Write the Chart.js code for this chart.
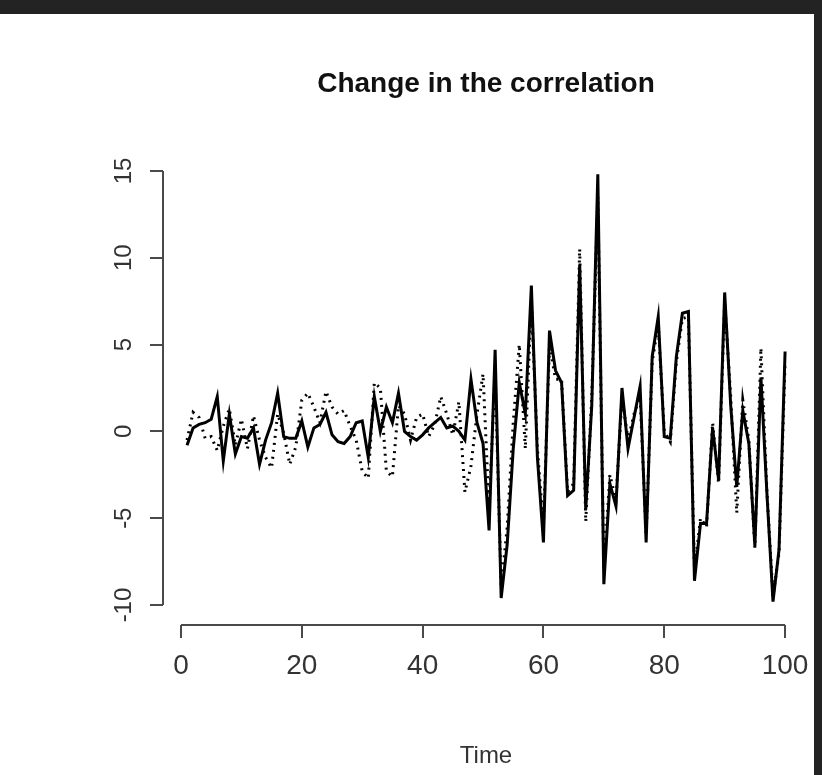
<!DOCTYPE html>
<html>
<head>
<meta charset="utf-8">
<script src="https://cdn.jsdelivr.net/npm/chart.js@4.4.1/dist/chart.umd.min.js"></script>
<style>
  html, body { margin: 0; padding: 0; background: #232323; width: 822px; height: 775px; overflow: hidden; }
  #panel { position: absolute; left: 0; top: 14px; width: 814px; height: 761px; background: #ffffff; }
  #wrap { position: absolute; left: 0; top: 0; width: 822px; height: 775px; }
</style>
</head>
<body>
<div id="panel"></div>
<div id="wrap"><canvas id="c" width="822" height="775"></canvas></div>
<script>
// ---- data ----
const chartTitle = "Change in the correlation";
const xAxisTitle = "Time";
const timeSteps = Array.from({length: 100}, (_, i) => i + 1);
const xTicks = [0, 20, 40, 60, 80, 100];
const yTicks = [-10, -5, 0, 5, 10, 15];

const solidSeries = [
  -0.8, 0.2, 0.4, 0.5, 0.7, 2.0, -1.7, 1.0, -1.3, -0.3,
  -0.4, 0.2, -1.9, -0.5, 0.5, 2.2, -0.3, -0.4, -0.4, 0.6,
  -0.9, 0.2, 0.4, 1.1, -0.2, -0.6, -0.7, -0.3, 0.5, 0.6,
  -1.5, 2.0, 0.0, 1.4, 0.5, 2.2, 0.0, -0.3, -0.5, -0.2,
  0.2, 0.5, 0.8, 0.2, 0.3, 0.0, -0.5, 3.0, 0.5, -0.7,
  -5.7, 4.7, -9.6, -6.5, -1.0, 2.8, 1.0, 8.4, -1.5, -6.4,
  5.8, 3.5, 2.8, -3.7, -3.4, 9.6, -4.5, 1.5, 14.8, -8.8,
  -3.0, -4.3, 2.5, -1.0, 0.8, 2.6, -6.4, 4.3, 6.6, -0.3,
  -0.4, 4.3, 6.8, 6.9, -8.6, -5.3, -5.3, 0.2, -2.8, 8.0,
  1.5, -3.2, 1.2, -0.7, -6.6, 3.1, -3.6, -9.8, -6.8, 4.6
];
const dottedSeries = [
  -0.5, 1.1, 0.8, -0.4, -0.3, -1.1, 0.3, 1.3, -0.8, 0.7,
  -1.0, 0.9, -0.5, -1.5, -2.1, 1.0, -0.1, -1.9, -0.9, 1.8,
  2.2, 1.4, 0.5, 2.3, 1.4, 1.0, 1.2, 0.3, -0.5, -2.3,
  -2.7, 2.8, 2.5, -2.3, -2.6, 1.5, 1.0, -0.5, 0.8, 1.0,
  -0.3, 0.4, 2.0, 1.0, -0.2, 1.7, -3.5, -2.0, 1.0, 3.3,
  -4.5, 3.5, -9.0, -5.5, 0.5, 5.0, -1.0, 7.5, -1.0, -5.5,
  5.0, 3.0, 3.0, -3.5, -3.0, 10.5, -5.2, 2.0, 13.5, -8.0,
  -2.5, -4.0, 2.0, -0.5, 1.0, 2.0, -6.0, 4.0, 6.2, 0.0,
  -0.6, 4.0, 6.5, 6.6, -8.0, -5.0, -5.5, 0.5, -3.0, 7.5,
  2.0, -4.7, 1.8, -0.5, -6.7, 4.8, -3.5, -9.5, -7.0, 4.0
];

const FONT = "'Liberation Sans', Arial, sans-serif";

const rAxesPlugin = {
  id: 'rAxes',
  afterDraw(chart) {
    const ctx = chart.ctx;
    const xs = chart.scales.x, ys = chart.scales.y;
    const area = chart.chartArea;
    ctx.save();
    ctx.strokeStyle = '#4a4a4a';
    ctx.lineWidth = 2;
    ctx.beginPath();
    ctx.moveTo(xs.getPixelForValue(xTicks[0]), area.bottom);
    ctx.lineTo(xs.getPixelForValue(xTicks[xTicks.length - 1]), area.bottom);
    ctx.moveTo(area.left, ys.getPixelForValue(yTicks[0]));
    ctx.lineTo(area.left, ys.getPixelForValue(yTicks[yTicks.length - 1]));
    ctx.stroke();
    // title centred over the plot region
    ctx.fillStyle = '#111';
    ctx.font = "bold 28px " + FONT;
    ctx.textAlign = 'center';
    ctx.textBaseline = 'alphabetic';
    ctx.fillText(chartTitle, (area.left + area.right) / 2, 92);
    ctx.restore();
  }
};

new Chart(document.getElementById('c'), {
  type: 'line',
  data: {
    datasets: [
      {
        label: 'solid',
        data: timeSteps.map((t, i) => ({x: t, y: solidSeries[i]})),
        borderColor: '#000',
        borderWidth: 3,
        pointRadius: 0,
        tension: 0
      },
      {
        label: 'dotted',
        data: timeSteps.map((t, i) => ({x: t, y: dottedSeries[i]})),
        borderColor: '#000',
        borderWidth: 3,
        borderDash: [2, 5],
        pointRadius: 0,
        tension: 0
      }
    ]
  },
  options: {
    responsive: false,
    animation: false,
    layout: { padding: { left: 0, right: 13, top: 157, bottom: 0 } },
    plugins: { legend: { display: false }, tooltip: { enabled: false }, title: { display: false } },
    scales: {
      x: {
        type: 'linear',
        min: -2.98,
        max: 103.96,
        afterBuildTicks: s => { s.ticks = xTicks.map(v => ({value: v})); },
        afterFit: s => { s.height = 150; },
        border: { display: false },
        grid: { drawOnChartArea: false, drawTicks: true, tickLength: 13, color: '#4a4a4a', lineWidth: 2 },
        ticks: { color: '#333', font: { family: FONT, size: 28 }, padding: 11, maxRotation: 0, autoSkip: false },
        title: { display: true, text: xAxisTitle, color: '#333', font: { family: FONT, size: 24 }, padding: { top: 0, bottom: 4 }, align: 'center' }
      },
      y: {
        type: 'linear',
        min: -11.15,
        max: 15.8,
        afterBuildTicks: s => { s.ticks = yTicks.map(v => ({value: v})); },
        afterFit: s => { s.width = 163; },
        border: { display: false },
        grid: { drawOnChartArea: false, drawTicks: true, tickLength: 13, color: '#4a4a4a', lineWidth: 2 },
        ticks: { color: '#333', font: { family: FONT, size: 24 }, padding: 8, minRotation: 90, maxRotation: 90, crossAlign: 'center', autoSkip: false }
      }
    }
  },
  plugins: [rAxesPlugin]
});
</script>
</body>
</html>
